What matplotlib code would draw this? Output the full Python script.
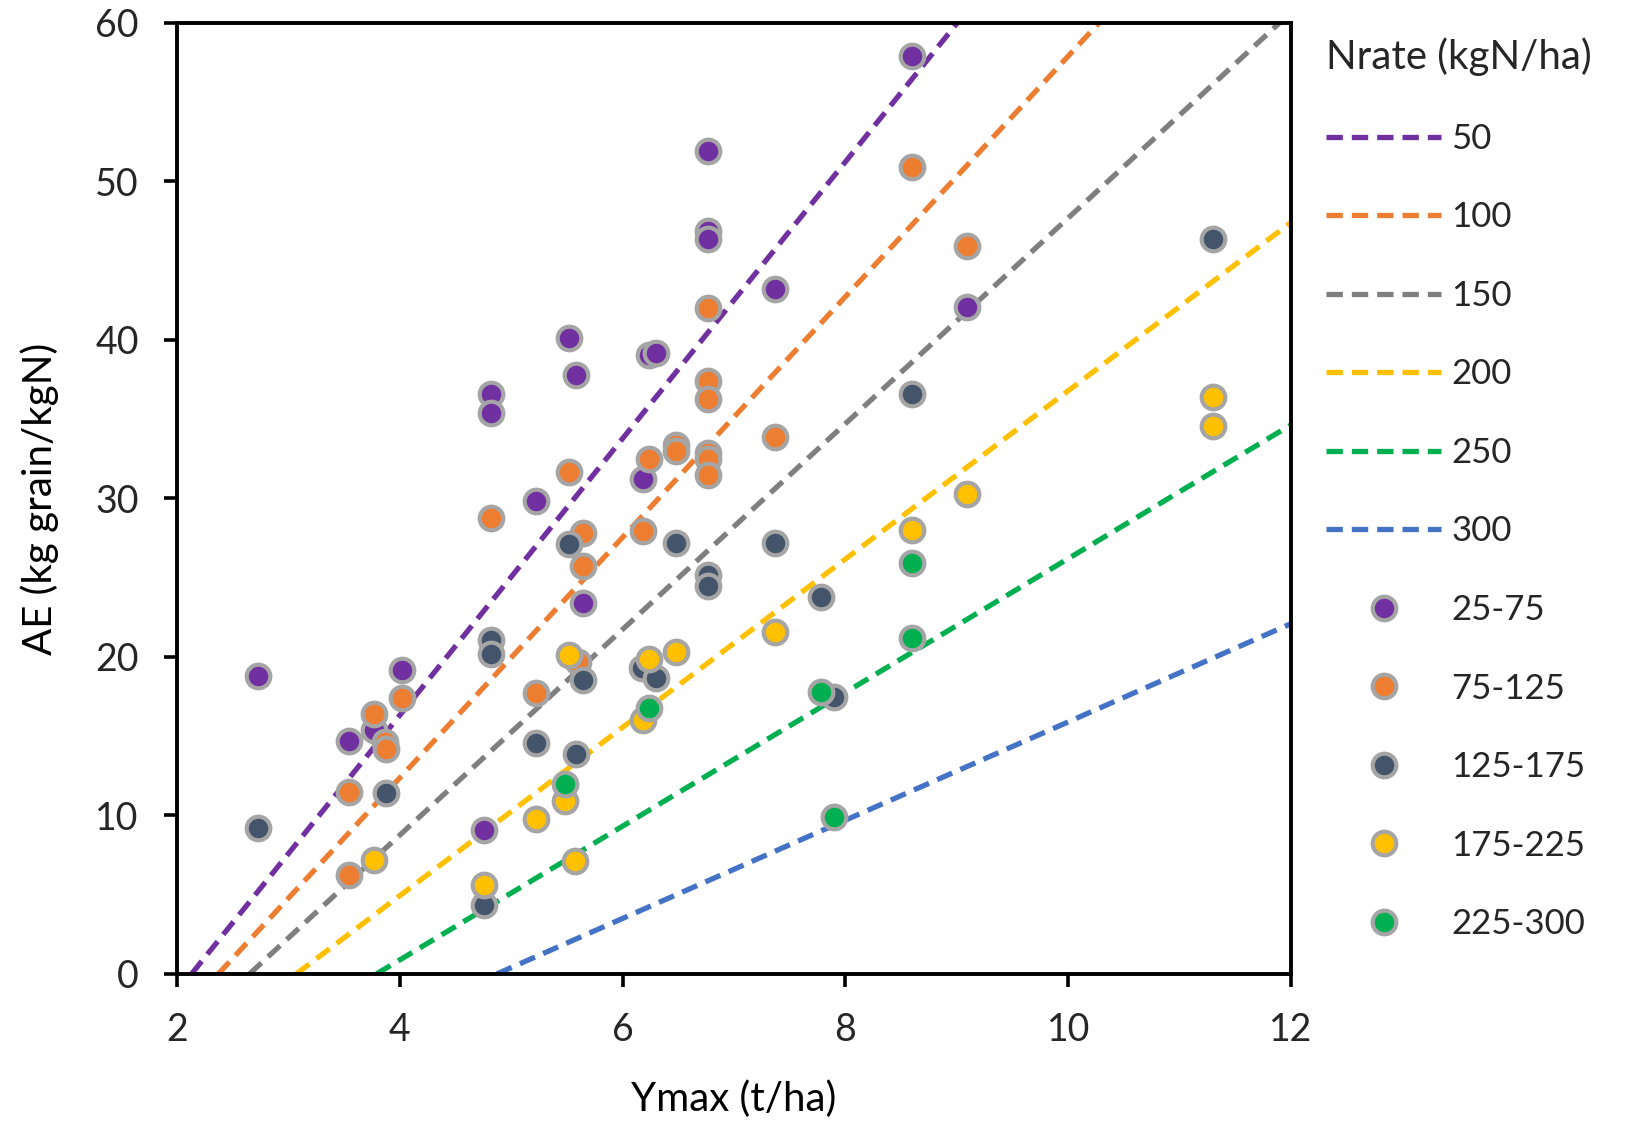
import numpy as np
import matplotlib
matplotlib.use("Agg")
import matplotlib.pyplot as plt

plt.rcParams['font.family'] = ['Lato', 'DejaVu Sans']
plt.rcParams['text.color'] = '#262626'

# dashed lines: Nrate, x-intercept (t/ha) and slope
line_rates = ['50', '100', '150', '200', '250', '300']
line_x0 = [2.13, 2.37, 2.65, 3.07, 3.79, 4.87]
line_slope = [8.73, 7.59, 6.49, 5.31, 4.22, 3.10]
line_colors = ['#7030A0', '#ED7D31', '#7F7F7F', '#FFC000', '#00B050', '#4472C4']

# observed points by N-rate class
x_25_75 = [2.73, 3.54, 3.77, 4.02, 4.82, 4.82, 4.76, 5.22, 5.52, 5.58, 5.64, 6.18,
           6.24, 6.30, 6.77, 6.77, 6.77, 7.37, 8.60, 9.09]
y_25_75 = [18.8, 14.7, 15.4, 19.2, 36.6, 35.4, 9.1, 29.85, 40.15, 37.8, 23.4, 31.2,
           39.05, 39.2, 51.9, 46.9, 46.35, 43.2, 57.9, 42.1]

x_75_125 = [3.54, 3.54, 3.77, 3.87, 3.88, 4.02, 4.82, 5.22, 5.52, 5.60, 5.64, 5.64,
            6.18, 6.24, 6.48, 6.48, 6.77, 6.77, 6.77, 6.77, 6.77, 6.77, 7.37, 8.60, 9.09]
y_75_125 = [11.45, 6.25, 16.4, 14.65, 14.2, 17.4, 28.75, 17.75, 31.7, 19.7, 27.85, 25.75,
            27.95, 32.5, 33.4, 33.0, 42.0, 37.4, 36.3, 32.85, 32.5, 31.5, 33.9, 50.9, 45.9]

x_125_175 = [2.73, 3.88, 4.76, 4.82, 4.82, 5.22, 5.52, 5.58, 5.64, 6.17, 6.30, 6.48,
             6.77, 6.77, 7.37, 7.78, 7.90, 8.60, 11.30]
y_125_175 = [9.2, 11.4, 4.35, 21.1, 20.2, 14.55, 27.1, 13.9, 18.55, 19.3, 18.65, 27.2,
             25.2, 24.5, 27.2, 23.8, 17.5, 36.6, 46.4]

x_175_225 = [3.77, 4.76, 5.22, 5.48, 5.52, 5.57, 6.18, 6.24, 6.48, 7.37, 8.60, 9.09, 11.30, 11.30]
y_175_225 = [7.2, 5.6, 9.8, 10.9, 20.1, 7.1, 16.0, 19.9, 20.3, 21.6, 28.0, 30.3, 36.4, 34.6]

x_225_300 = [5.48, 6.24, 7.78, 7.90, 8.60, 8.60]
y_225_300 = [12.0, 16.8, 17.8, 9.9, 25.9, 21.2]

classes = ['25-75', '75-125', '125-175', '175-225', '225-300']
class_x = [x_25_75, x_75_125, x_125_175, x_175_225, x_225_300]
class_y = [y_25_75, y_75_125, y_125_175, y_175_225, y_225_300]
class_colors = ['#7030A0', '#ED7D31', '#44546A', '#FFC000', '#00B050']

fig = plt.figure(figsize=(16.33, 11.27), dpi=100)
ax = fig.add_axes([0.1084, 0.1358, 0.6822, 0.8438])

for rate, x0, k, c in zip(line_rates, line_x0, line_slope, line_colors):
    xs = np.array([x0, 12.0])
    ax.plot(xs, k * (xs - x0), color=c, lw=3.8, dashes=(3.1, 1.7), label=rate)

for name, xs, ys, c in zip(classes, class_x, class_y, class_colors):
    ax.plot(xs, ys, 'o', ms=17, color=c, mec='#A5A5A5', mew=3, label=name)

ax.set_xlim(2, 12)
ax.set_ylim(0, 60)
ax.set_xticks([2, 4, 6, 8, 10, 12])
ax.set_yticks([0, 10, 20, 30, 40, 50, 60])
ax.tick_params(labelsize=27, width=2.6, length=9.5, direction='out', pad=18,
               labelcolor='#262626')
for s in ax.spines.values():
    s.set_linewidth(2.8)
ax.set_xlabel('Ymax (t/ha)', fontsize=29, labelpad=23)
ax.set_ylabel('AE (kg grain/kgN)', fontsize=29, labelpad=26)

leg = ax.legend(loc='upper left', bbox_to_anchor=(0.8016, 0.982), bbox_transform=fig.transFigure,
                frameon=False, fontsize=25, title='Nrate (kgN/ha)', title_fontsize=29,
                handlelength=3.3, handletextpad=0.3, labelspacing=1.34, borderpad=0,
                alignment='left')

fig.savefig('out.png', dpi=100)
